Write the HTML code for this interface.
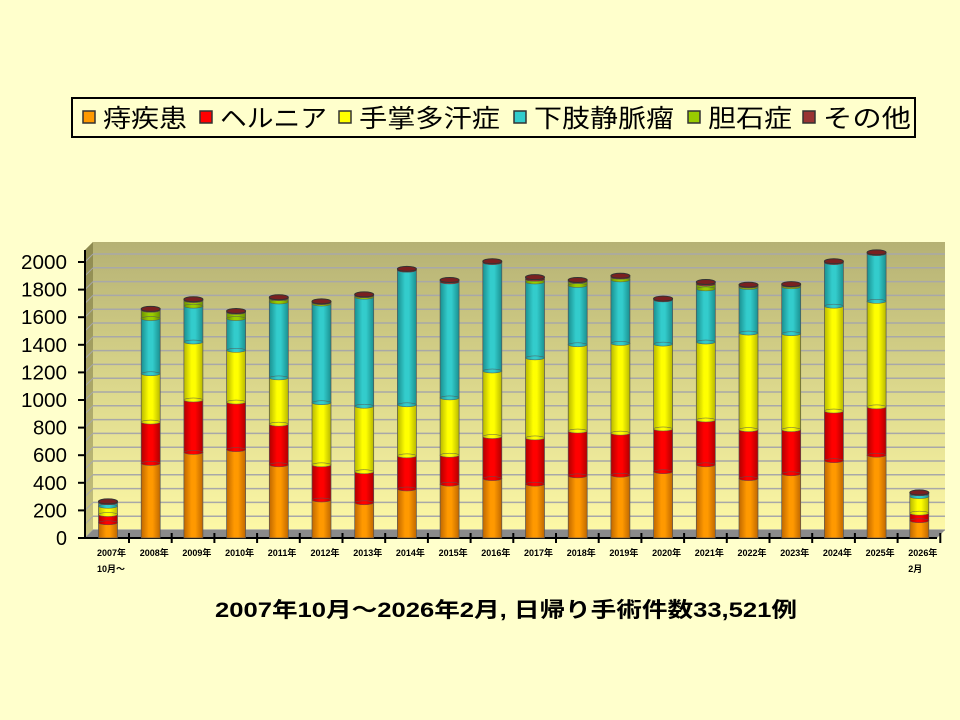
<!DOCTYPE html>
<html><head><meta charset="utf-8"><style>
html,body{margin:0;padding:0;background:#ffffcc;}
svg{display:block;font-family:"Liberation Sans","Noto Sans CJK JP",sans-serif;}
</style></head><body>
<svg id="s" width="960" height="720" xmlns="http://www.w3.org/2000/svg">
<defs>
<linearGradient id="wall" x1="0" y1="0" x2="0" y2="1">
<stop offset="0" stop-color="#b5b174"/><stop offset="0.5" stop-color="#dcd88c"/><stop offset="1" stop-color="#fffaa8"/></linearGradient>
<linearGradient id="lwall" x1="0" y1="0" x2="0" y2="1">
<stop offset="0" stop-color="#8e8a50"/><stop offset="1" stop-color="#c8c480"/></linearGradient>
</defs>
<rect width="960" height="720" fill="#ffffcc"/>
<rect x="72" y="98" width="843" height="39" fill="#ffffcc" stroke="#000" stroke-width="2"/>
<g id="leg"></g>
<polygon points="85,250 93,242 945,242 945,530 93,530 85,538" fill="url(#wall)"/>
<polygon points="85,250 93,242 93,530 85,538" fill="url(#lwall)"/>
<g id="grid"></g>
<polygon points="85,538 93,530 945,530 937,538" fill="#8a8a8a"/>
<line x1="85" y1="250" x2="85" y2="538" stroke="#000" stroke-width="2"/>
<line x1="85" y1="538" x2="937" y2="538" stroke="#000" stroke-width="2"/>
<g id="bars"></g>
<g id="ax" font-size="20" text-anchor="end"></g>
<g id="xl" font-size="9" font-weight="bold"></g>
<text x="215" y="617" font-size="21" font-weight="bold" textLength="582" lengthAdjust="spacingAndGlyphs">2007年10月～2026年2月, 日帰り手術件数33,521例</text>
</svg>
<script>
var NS="http://www.w3.org/2000/svg";
function el(p,t,a,txt){var e=document.createElementNS(NS,t);for(var k in a)e.setAttribute(k,a[k]);if(txt)e.textContent=txt;document.getElementById(p).appendChild(e);return e;}
var cols=["#ff9900","#ff0000","#ffff00","#33cccc","#99cc00","#993333"];
var dark=["#c06800","#b00000","#b8b800","#1a9090","#6a9000","#5a1a1a"];
var names=["痔疾患","ヘルニア","手掌多汗症","下肢静脈瘤","胆石症","その他"];
var lx=[83,200,339,514,688,803],lw=[84,107,141,140,84,88];
var defs=document.querySelector("defs");
for(var i=0;i<6;i++){
 el("leg","rect",{x:lx[i],y:111,width:12,height:12,fill:cols[i],stroke:"#333","stroke-width":1.5});
 el("leg","text",{x:lx[i]+20,y:127,"font-size":25,textLength:lw[i],lengthAdjust:"spacingAndGlyphs"},names[i]);
 var g=document.createElementNS(NS,"linearGradient");g.setAttribute("id","g"+i);
 g.innerHTML='<stop offset="0" stop-color="'+dark[i]+'"/><stop offset="0.4" stop-color="'+cols[i]+'"/><stop offset="0.6" stop-color="'+cols[i]+'"/><stop offset="1" stop-color="'+dark[i]+'"/>';
 defs.appendChild(g);
}
for(var v=0;v<=2000;v+=100){var y=530-v*0.138;
 el("grid","line",{x1:93,y1:y,x2:945,y2:y,stroke:"#a8a8a8","stroke-width":1.5});
 el("grid","line",{x1:85,y1:y+8,x2:93,y2:y,stroke:"#a8a8a8","stroke-width":1});}
for(var v=0;v<=2000;v+=200){var y=538-v*0.138;
 el("ax","text",{x:67,y:y+7,textLength:v>=1000?46:(v>0?34:11),lengthAdjust:"spacingAndGlyphs"},String(v));
 el("ax","line",{x1:78,y1:y,x2:85,y2:y,stroke:"#000","stroke-width":2});}
var tops=[
[110,170,230,255,255,265],
[540,840,1190,1590,1650,1660],
[620,1000,1420,1680,1720,1730],
[640,985,1360,1590,1635,1645],
[530,825,1160,1710,1735,1745],
[275,530,980,1695,1705,1715],
[255,480,955,1745,1755,1765],
[355,595,965,1940,1940,1950],
[390,600,1015,1855,1855,1870],
[430,735,1210,1995,1995,2005],
[390,725,1305,1855,1875,1890],
[450,775,1400,1830,1860,1870],
[455,760,1410,1870,1890,1900],
[480,790,1405,1725,1725,1735],
[530,855,1420,1805,1840,1855],
[430,785,1485,1815,1825,1835],
[465,785,1480,1820,1830,1840],
[560,920,1680,1995,1995,2005],
[600,950,1715,2060,2060,2070],
[125,180,300,320,320,330]];
var labs=["2007年|10月～","2008年","2009年","2010年","2011年","2012年","2013年","2014年","2015年","2016年","2017年","2018年","2019年","2020年","2021年","2022年","2023年","2024年","2025年","2026年|2月"];
for(var b=0;b<20;b++){
 var cx=108+b*42.7,w=19,x=cx-w/2,prev=0,base=538;
 el("xl","line",{x1:cx+21,y1:533,x2:cx+21,y2:543,stroke:"#000","stroke-width":2});
 for(var s=0;s<6;s++){var t=tops[b][s];if(t<=prev)continue;
  var y0=base-prev*0.138,y1=base-t*0.138;
  el("bars","rect",{x:x,y:y1,width:w,height:y0-y1,fill:"url(#g"+s+")",stroke:"#555","stroke-width":0.7});
  if(prev>0)el("bars","ellipse",{cx:cx,cy:y0,rx:w/2,ry:2,fill:"url(#g"+s+")",stroke:"#555","stroke-width":0.5});
  prev=t;}
 var yt=base-prev*0.138;
 el("bars","ellipse",{cx:cx,cy:yt,rx:w/2,ry:2.5,fill:"#7a2020",stroke:"#333","stroke-width":1});
 var L=labs[b].split("|");
 el("xl","text",{x:cx-11,y:556},L[0]);
 if(L[1])el("xl","text",{x:cx-11,y:572},L[1]);
}
</script>
</body></html>
